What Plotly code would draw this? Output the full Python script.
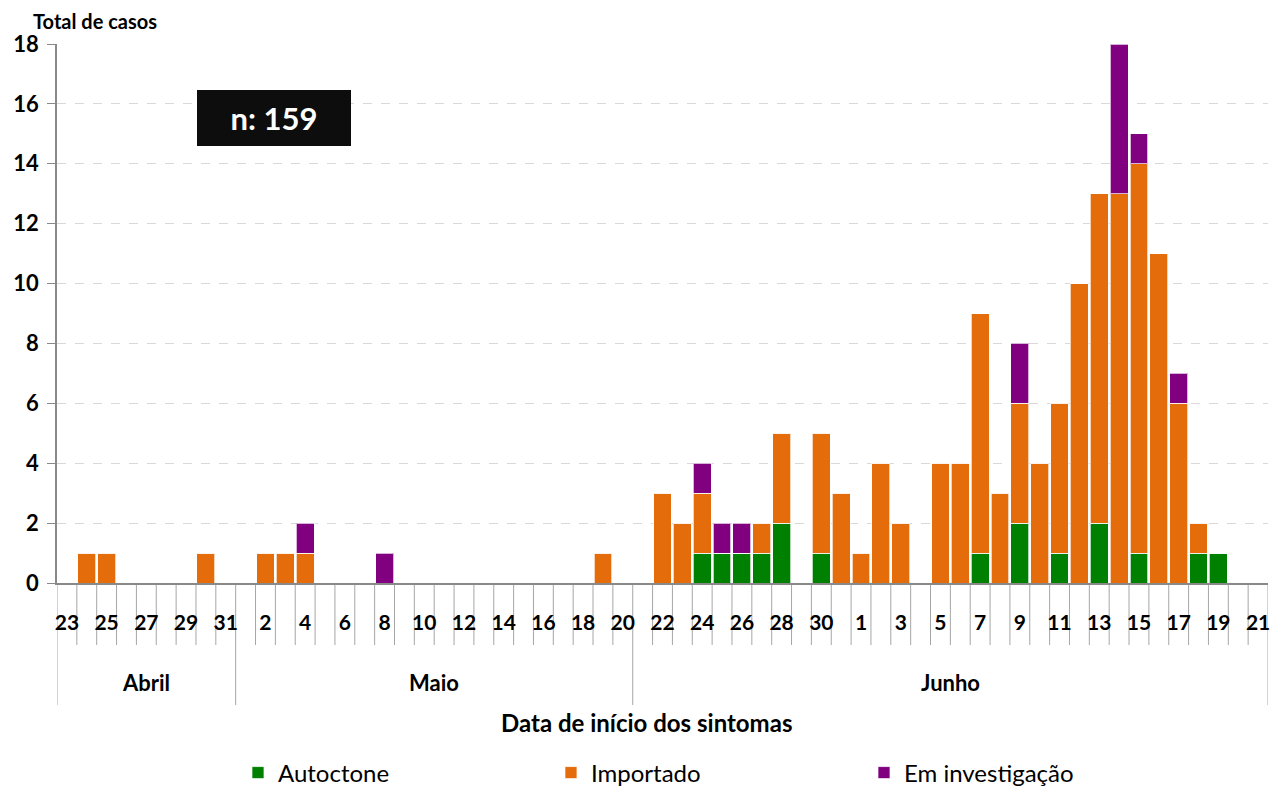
import plotly.graph_objects as go

# Day labels (one per category)
day_labels = ["23", "24", "25", "26", "27", "28", "29", "30", "31",
              "1", "2", "3", "4", "5", "6", "7", "8", "9", "10",
              "11", "12", "13", "14", "15", "16", "17", "18", "19", "20",
              "21", "22", "23", "24", "25", "26", "27", "28", "29", "30",
              "31", "1", "2", "3", "4", "5", "6", "7", "8", "9",
              "10", "11", "12", "13", "14", "15", "16", "17", "18", "19",
              "20", "21"]

autoctone = [0, 0, 0, 0, 0, 0, 0, 0, 0, 0,
             0, 0, 0, 0, 0, 0, 0, 0, 0, 0,
             0, 0, 0, 0, 0, 0, 0, 0, 0, 0,
             0, 0, 1, 1, 1, 1, 2, 0, 1, 0,
             0, 0, 0, 0, 0, 0, 1, 0, 2, 0,
             1, 0, 2, 0, 1, 0, 0, 1, 1, 0,
             0]
importado = [0, 1, 1, 0, 0, 0, 0, 1, 0, 0,
             1, 1, 1, 0, 0, 0, 0, 0, 0, 0,
             0, 0, 0, 0, 0, 0, 0, 1, 0, 0,
             3, 2, 2, 0, 0, 1, 3, 0, 4, 3,
             1, 4, 2, 0, 4, 4, 8, 3, 4, 4,
             5, 10, 11, 13, 13, 11, 6, 1, 0, 0,
             0]
investigacao = [0, 0, 0, 0, 0, 0, 0, 0, 0, 0,
                0, 0, 1, 0, 0, 0, 1, 0, 0, 0,
                0, 0, 0, 0, 0, 0, 0, 0, 0, 0,
                0, 0, 1, 1, 1, 0, 0, 0, 0, 0,
                0, 0, 0, 0, 0, 0, 0, 0, 2, 0,
                0, 0, 0, 5, 1, 0, 1, 0, 0, 0,
                0]

# Month groups: (label, first index, last index)
months = ["Abril", "Maio", "Junho"]
month_start = [0, 9, 29]
month_end = [8, 28, 60]

series_names = ["Autoctone", "Importado", "Em investigação"]
series_colors = ["#008000", "#E46C0A", "#800080"]

FONT = "Lato"
x = list(range(len(day_labels)))

fig = go.Figure()
for name, vals, col in zip(series_names, [autoctone, importado, investigacao], series_colors):
    fig.add_trace(go.Bar(
        x=x, y=vals, name=name,
        marker=dict(color=col, line=dict(color="rgba(255,255,255,0.7)", width=1)),
    ))

shapes = []
n = len(day_labels)
group_edges = set([s - 0.5 for s in month_start] + [month_end[-1] + 0.5])
for k in range(n + 1):
    xe = k - 0.5
    y1 = -0.2263 if xe in group_edges else -0.115
    shapes.append(dict(type="line", xref="x", yref="paper", x0=xe, x1=xe, y0=0, y1=y1,
                       line=dict(color="#a6a6a6", width=1), layer="below"))

annotations = []
for m, s, e in zip(months, month_start, month_end):
    annotations.append(dict(x=(s + e) / 2, y=-0.1855, xref="x", yref="paper",
                            text=m, showarrow=False,
                            font=dict(family=FONT, size=22, color="black", weight="bold"),
                            xanchor="center", yanchor="middle"))

annotations.append(dict(x=-0.0215, y=1.043, xref="paper", yref="paper", text="Total de casos",
                        showarrow=False, xanchor="left", yanchor="middle",
                        font=dict(family=FONT, size=20, color="black", weight="bold")))
annotations.append(dict(x=0.4872, y=-0.2579, xref="paper", yref="paper",
                        text="Data de início dos sintomas", showarrow=False,
                        xanchor="center", yanchor="middle",
                        font=dict(family=FONT, size=24, color="black", weight="bold")))
annotations.append(dict(x=0.1792, y=0.8627, xref="paper", yref="paper", text="n: 159",
                        showarrow=False, xanchor="center", yanchor="middle",
                        bgcolor="#0d0d0d", width=154, height=56, borderpad=0, borderwidth=0,
                        font=dict(family=FONT, size=31, color="white", weight="bold")))

# The page body adds an 8px margin, so the figure is sized/offset to compensate.
fig.update_layout(
    width=1270, height=779,
    margin=dict(l=49, r=10, t=36, b=204),
    plot_bgcolor="white", paper_bgcolor="white",
    barmode="stack", bargap=0.1,
    showlegend=True,
    legend=dict(orientation="h", xref="container", yref="container",
                x=0.1811, y=0.018, xanchor="left", yanchor="middle",
                entrywidth=268, entrywidthmode="pixels",
                font=dict(family=FONT, size=24, color="black"),
                traceorder="normal"),
    xaxis=dict(range=[-0.5, n - 0.5], tickmode="array", automargin=False,
               tickvals=x[::2], ticktext=day_labels[::2],
               ticks="outside", ticklen=20, tickcolor="rgba(0,0,0,0)",
               showgrid=False, zeroline=False,
               showline=True, linecolor="#898989", linewidth=2,
               tickfont=dict(family=FONT, size=21, color="black", weight="bold")),
    yaxis=dict(range=[0, 18], dtick=2, tick0=0, automargin=False,
               showgrid=True, gridcolor="#d9d9d9", griddash="dash", gridwidth=1,
               zeroline=False, showline=True, linecolor="#898989", linewidth=1.5,
               ticks="outside", ticklen=8, tickcolor="#898989", ticklabelstandoff=4,
               tickfont=dict(family=FONT, size=22, color="black", weight="bold")),
    shapes=shapes,
    annotations=annotations,
)

fig.write_html("out.html")
